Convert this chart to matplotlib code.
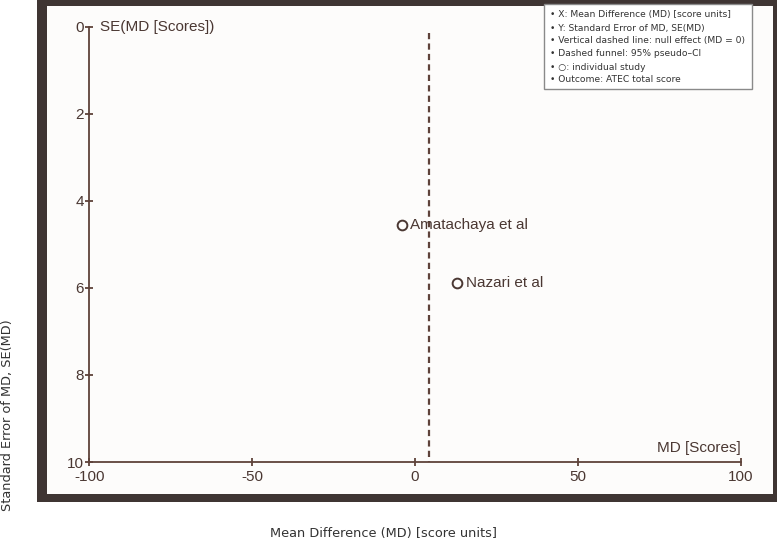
import numpy as np
import matplotlib.pyplot as plt
from matplotlib.patches import Rectangle

plt.rcParams["axes.unicode_minus"] = False

W, H = 777, 540

# study data
studies = ["Amatachaya et al", "Nazari et al"]
md = [-4.1, 13.0]
se = [4.56, 5.89]
pooled_md = 4.3

x_ticks = [-100, -50, 0, 50, 100]
y_ticks = [0, 2, 4, 6, 8, 10]

notes = [
    "X: Mean Difference (MD) [score units]",
    "Y: Standard Error of MD, SE(MD)",
    "Vertical dashed line: null effect (MD = 0)",
    "Dashed funnel: 95% pseudo\u2013CI",
    "\u25cb: individual study",
    "Outcome: ATEC total score",
]

frame_col = "#3f3533"
axis_col = "#5e423a"
text_col = "#4a3732"


def fx(px):
    return px / W


def fy(py):
    return 1 - py / H


fig = plt.figure(figsize=(W / 100, H / 100), dpi=100)
fig.patch.set_facecolor("white")

# picture frame
fig.add_artist(Rectangle((fx(37), fy(502)), fx(760) - fx(0), fy(0) - fy(510),
                         transform=fig.transFigure, facecolor=frame_col,
                         edgecolor="none", zorder=0))
fig.add_artist(Rectangle((fx(47), fy(494)), fx(726), fy(0) - fy(488),
                         transform=fig.transFigure, facecolor="#fdfcfb",
                         edgecolor="none", zorder=0))

# inner plot
left, right, top, bottom = 89.3, 740.7, 26.7, 462
ax = fig.add_axes([fx(left), fy(bottom), fx(right - left), (bottom - top) / H])
ax.set_facecolor("none")
ax.set_xlim(-100, 100)
ax.set_ylim(10, 0)
for s in ["top", "right"]:
    ax.spines[s].set_visible(False)
for s in ["left", "bottom"]:
    ax.spines[s].set_color(axis_col)
    ax.spines[s].set_linewidth(1.3)
ax.set_xticks(x_ticks)
ax.set_yticks(y_ticks)
ax.tick_params(direction="inout", length=6, width=1.3, color=axis_col,
               labelcolor=text_col, labelsize=11)
ax.tick_params(axis="x", pad=2.5)
ax.tick_params(axis="y", pad=1)
for lab in ax.get_xticklabels() + ax.get_yticklabels():
    lab.set_family("Liberation Sans")

ax.vlines(pooled_md, 0.15, 10, color=axis_col, lw=1.6, ls=(0, (2.8, 1.9)))
ax.plot(md, se, "o", ms=7, mfc="none", mec=text_col, mew=1.4, clip_on=False)
for name, x, y in zip(studies, md, se):
    ax.annotate(name, (x, y), xytext=(6, 0), textcoords="offset points",
                va="center", ha="left", fontsize=11, color=text_col,
                family="Liberation Sans")

ax.text(0.016, 1.0, "SE(MD [Scores])", transform=ax.transAxes, ha="left",
        va="center", fontsize=11, color=text_col, family="Liberation Sans")
ax.text(1.0, 0.033, "MD [Scores]", transform=ax.transAxes, ha="right",
        va="center", fontsize=11, color=text_col, family="Liberation Sans")

# notes box
fig.add_artist(Rectangle((fx(544), fy(89)), fx(752) - fx(544), fy(4) - fy(89),
                         transform=fig.transFigure, facecolor="white",
                         edgecolor="#8a8a8a", lw=1, zorder=5))
for i, t in enumerate(notes):
    fig.text(fx(550), fy(15 + i * 13), "\u2022 " + t, fontsize=6.6,
             color="#333333", va="center", ha="left", zorder=6,
             family="DejaVu Sans")

# outer axis labels
fig.text(fx(383), fy(533), "Mean Difference (MD) [score units]", fontsize=9.3,
         color="#333333", ha="center", va="center")
fig.text(fx(8), fy(415), "Standard Error of MD, SE(MD)", fontsize=9.3,
         color="#333333", ha="center", va="center", rotation=90)

fig.savefig("out.png", dpi=100)
